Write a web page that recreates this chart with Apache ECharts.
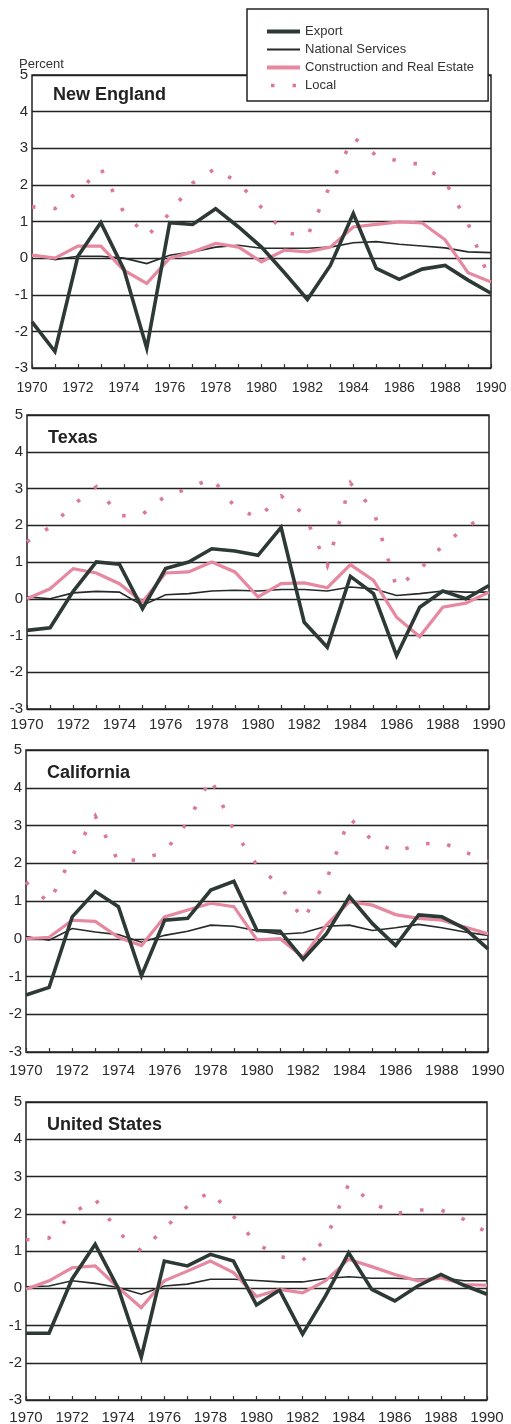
<!DOCTYPE html>
<html>
<head>
<meta charset="utf-8">
<script src="https://cdn.jsdelivr.net/npm/echarts@6/dist/echarts.min.js"></script>
<style>
html,body{margin:0;padding:0;background:#fff;}
#chart{width:511px;height:1424px;}
</style>
</head>
<body>
<div id="chart"></div>
<script>
// ---- data ----
var years = [1970,1971,1972,1973,1974,1975,1976,1977,1978,1979,1980,1981,1982,1983,1984,1985,1986,1987,1988,1989,1990];
var seriesNames = ['Export','National Services','Construction and Real Estate','Local'];
var panelTitles = ['New England','Texas','California','United States'];
var yTicks = [-3,-2,-1,0,1,2,3,4,5];

var neExport       = [-1.74,-2.55,0.05,0.97,-0.3,-2.46,0.97,0.92,1.35,0.85,0.3,-0.4,-1.13,-0.2,1.22,-0.28,-0.58,-0.3,-0.2,-0.6,-0.96];
var neNational     = [0.1,-0.04,0.05,0.05,0.0,-0.15,0.08,0.17,0.3,0.35,0.27,0.27,0.27,0.3,0.42,0.45,0.38,0.33,0.28,0.17,0.15];
var neConstruction = [0.08,0.0,0.33,0.33,-0.33,-0.69,0.0,0.17,0.4,0.3,-0.1,0.22,0.17,0.3,0.85,0.92,0.99,0.96,0.5,-0.4,-0.65];
var neLocal        = [1.4,1.35,1.8,2.45,1.25,0.6,1.22,2.05,2.45,2.05,1.38,0.7,0.6,2.0,3.3,2.8,2.65,2.55,2.1,0.95,-0.7];

var txExport       = [-0.86,-0.79,0.2,1.0,0.94,-0.27,0.82,1.0,1.36,1.3,1.18,1.94,-0.64,-1.32,0.61,0.14,-1.55,-0.23,0.21,0.0,0.36];
var txNational     = [0.05,0.0,0.16,0.2,0.18,-0.18,0.11,0.14,0.21,0.23,0.21,0.25,0.25,0.21,0.32,0.27,0.09,0.14,0.21,0.18,0.18];
var txConstruction = [0.0,0.27,0.82,0.7,0.41,-0.09,0.7,0.73,1.0,0.73,0.05,0.41,0.43,0.3,0.93,0.5,-0.5,-1.03,-0.23,-0.12,0.18];
var txLocal        = [1.55,1.95,2.55,3.05,2.25,2.3,2.8,3.0,3.28,2.5,2.2,2.8,2.3,0.9,3.15,2.4,0.3,0.8,1.45,1.95,2.3];

var caExport       = [-1.49,-1.29,0.58,1.25,0.85,-0.98,0.49,0.54,1.29,1.52,0.22,0.2,-0.54,0.13,1.12,0.4,-0.18,0.63,0.58,0.27,-0.27];
var caNational     = [0.06,-0.04,0.27,0.18,0.11,-0.09,0.09,0.2,0.36,0.33,0.21,0.12,0.16,0.33,0.36,0.22,0.29,0.38,0.29,0.18,0.09];
var caConstruction = [0.0,0.04,0.49,0.46,0.04,-0.18,0.58,0.76,0.94,0.85,-0.03,0.0,-0.49,0.36,0.98,0.89,0.64,0.54,0.49,0.31,0.13];
var caLocal        = [1.5,0.95,2.2,3.25,2.05,2.1,2.3,3.1,4.25,2.86,1.95,1.4,0.5,1.55,3.2,2.6,2.3,2.5,2.55,2.3,2.05];

var usExport       = [-1.21,-1.21,0.25,1.18,0.0,-1.85,0.73,0.6,0.91,0.73,-0.45,-0.05,-1.23,-0.2,0.95,-0.03,-0.34,0.06,0.37,0.08,-0.16];
var usNational     = [0.04,0.06,0.2,0.13,0.02,-0.16,0.06,0.11,0.24,0.24,0.21,0.17,0.17,0.26,0.31,0.27,0.27,0.24,0.28,0.2,0.2];
var usConstruction = [-0.03,0.2,0.55,0.6,0.02,-0.52,0.2,0.46,0.73,0.42,-0.22,-0.03,-0.12,0.2,0.78,0.58,0.37,0.2,0.28,0.1,0.08];
var usLocal        = [1.3,1.35,2.0,2.4,1.5,1.0,1.6,2.2,2.6,1.93,1.2,0.85,0.75,1.3,2.8,2.3,2.0,2.1,2.1,1.85,1.5];

var panels = [
  [neExport, neNational, neConstruction, neLocal],
  [txExport, txNational, txConstruction, txLocal],
  [caExport, caNational, caConstruction, caLocal],
  [usExport, usNational, usConstruction, usLocal]
];

// ---- layout / style ----
var FONT = '"Liberation Sans", Arial, Helvetica, sans-serif';
var gridBoxes = [
  {left:32, right:20, top:75,   height:293, xFont:14, xMargin:13},
  {left:27, right:22, top:415,  height:294, xFont:15, xMargin:8},
  {left:26, right:23, top:750,  height:302, xFont:15, xMargin:11},
  {left:26, right:24, top:1102, height:298, xFont:15, xMargin:10}
];
var styles = [
  {color:'#2c3935', width:3.6, type:'solid', z:5},
  {color:'#252a28', width:1.6, type:'solid', z:3},
  {color:'#e6889f', width:3.2, type:'solid', z:4},
  {color:'#dc7a96', width:3.6, type:[3.5,18], z:2}
];

function pairs(arr){ return years.map(function(y,i){ return [y, arr[i]]; }); }

var grids=[], xAxes=[], yAxes=[], series=[], titles=[];
gridBoxes.forEach(function(g, p){
  grids.push({left:g.left, right:g.right, top:g.top, height:g.height, show:true,
              outerBoundsMode:'none', containLabel:false,
              borderColor:'#222', borderWidth:1.5, backgroundColor:'transparent'});
  xAxes.push({type:'value', gridIndex:p, min:years[0], max:years[years.length-1], interval:1,
    position:'bottom',
    axisLine:{show:false, onZero:false},
    axisTick:{show:true, inside:true, length:4, lineStyle:{color:'#333', width:1.2}},
    splitLine:{show:false},
    axisLabel:{fontSize:g.xFont, color:'#2a2a2a', fontFamily:FONT, margin:g.xMargin,
      showMinLabel:true, showMaxLabel:true, hideOverlap:false,
      formatter:function(v){ return (v % 2 === 0) ? String(v) : ''; }}
  });
  yAxes.push({type:'value', gridIndex:p, min:yTicks[0], max:yTicks[yTicks.length-1], interval:1,
    axisLine:{show:false, onZero:false}, axisTick:{show:false},
    splitLine:{show:true, lineStyle:{color:'#222', width:1.4}},
    axisLabel:{fontSize:15, color:'#2a2a2a', fontFamily:FONT, margin:4}
  });
  panels[p].forEach(function(arr, s){
    var st = styles[s];
    series.push({name:seriesNames[s], type:'line', xAxisIndex:p, yAxisIndex:p,
      data:pairs(arr), symbol:'none', z:st.z, silent:true,
      lineStyle:{color:st.color, width:st.width, type:st.type, cap:'butt', join:'miter'},
      itemStyle:{color:st.color}
    });
  });
  titles.push({text:panelTitles[p], left:g.left + 21, top:g.top + (p===0 ? 11 : 14), padding:0,
    textStyle:{fontSize:18, fontWeight:'bold', color:'#222', fontFamily:FONT}});
});
titles.push({text:'Percent', left:19, top:58, padding:0,
  textStyle:{fontSize:13, fontWeight:'normal', color:'#333', fontFamily:FONT}});

var option = {
  animation:false,
  backgroundColor:'#fff',
  title:titles,
  legend:{
    orient:'vertical', left:247, top:9, padding:[16,14,9,18], itemGap:5,
    itemWidth:33, itemHeight:12, borderColor:'#222', borderWidth:1.5, backgroundColor:'#fff',
    selectedMode:false, z:10,
    textStyle:{fontSize:13, color:'#333', fontFamily:FONT},
    itemStyle:{color:'transparent', borderWidth:0, opacity:0},
    data:[
      {name:seriesNames[0], lineStyle:{width:4}},
      {name:seriesNames[1], lineStyle:{width:2}},
      {name:seriesNames[2], lineStyle:{width:4}},
      {name:seriesNames[3], lineStyle:{width:3.5, dashOffset:-4}}
    ]
  },
  grid:grids, xAxis:xAxes, yAxis:yAxes, series:series
};
var chart = echarts.init(document.getElementById('chart'), null, {renderer:'canvas'});
chart.setOption(option);
</script>
</body>
</html>
